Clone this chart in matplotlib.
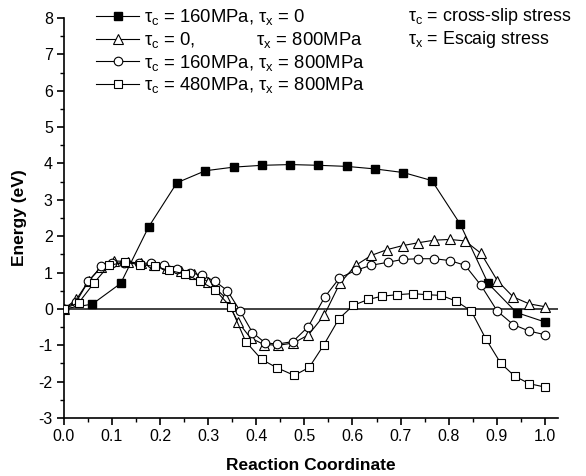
import matplotlib
matplotlib.use("Agg")
import matplotlib.pyplot as plt
from matplotlib.ticker import MultipleLocator

plt.rcParams['font.family'] = ['Liberation Sans', 'DejaVu Sans']
plt.rcParams['mathtext.fontset'] = 'custom'
plt.rcParams['mathtext.rm'] = 'Liberation Sans'
plt.rcParams['mathtext.it'] = 'Liberation Sans'
plt.rcParams['mathtext.bf'] = 'Liberation Sans:bold'

# Series 1: tau_c = 160MPa, tau_x = 0 (filled squares)
x1 = [0.0, 0.059, 0.118, 0.176, 0.235, 0.294, 0.353, 0.412, 0.471, 0.529,
      0.588, 0.647, 0.706, 0.765, 0.824, 0.882, 0.941, 1.0]
y1 = [0.0, 0.13, 0.70, 2.25, 3.47, 3.80, 3.90, 3.95, 3.97, 3.95,
      3.92, 3.85, 3.75, 3.53, 2.33, 0.70, -0.10, -0.36]

# Series 2: tau_c = 0, tau_x = 800MPa (open triangles)
x2 = [0.0, 0.026, 0.052, 0.078, 0.105, 0.133, 0.160, 0.188, 0.215, 0.243,
      0.270, 0.300, 0.335, 0.362, 0.388, 0.416, 0.446, 0.477, 0.508, 0.541,
      0.574, 0.607, 0.639, 0.672, 0.704, 0.737, 0.770, 0.802, 0.834, 0.867,
      0.901, 0.934, 0.967, 1.0]
y2 = [0.0, 0.26, 0.78, 1.15, 1.32, 1.30, 1.25, 1.20, 1.12, 1.05,
      0.95, 0.75, 0.32, -0.36, -0.80, -0.98, -1.00, -0.94, -0.72, -0.18,
      0.71, 1.20, 1.47, 1.63, 1.74, 1.82, 1.89, 1.91, 1.87, 1.53,
      0.78, 0.33, 0.14, 0.06]

# Series 3: tau_c = 160MPa, tau_x = 800MPa (open circles)
x3 = [0.0, 0.026, 0.051, 0.078, 0.100, 0.126, 0.156, 0.182, 0.209, 0.236,
      0.262, 0.288, 0.314, 0.340, 0.366, 0.392, 0.418, 0.443, 0.476, 0.508,
      0.542, 0.573, 0.607, 0.639, 0.673, 0.704, 0.737, 0.770, 0.802, 0.834,
      0.867, 0.901, 0.934, 0.967, 1.0]
y3 = [0.0, 0.20, 0.76, 1.17, 1.25, 1.27, 1.27, 1.25, 1.22, 1.11,
      1.00, 0.92, 0.76, 0.50, -0.05, -0.65, -0.93, -0.97, -0.90, -0.49,
      0.32, 0.85, 1.06, 1.20, 1.28, 1.36, 1.38, 1.38, 1.33, 1.20,
      0.65, -0.06, -0.43, -0.61, -0.71]

# Series 4: tau_c = 480MPa, tau_x = 800MPa (open squares)
x4 = [0.0, 0.031, 0.063, 0.094, 0.127, 0.158, 0.189, 0.218, 0.252, 0.283,
      0.314, 0.347, 0.378, 0.411, 0.443, 0.479, 0.510, 0.540, 0.572, 0.602,
      0.633, 0.662, 0.693, 0.725, 0.755, 0.785, 0.816, 0.847, 0.877, 0.908,
      0.937, 0.968, 1.0]
y4 = [0.0, 0.17, 0.72, 1.20, 1.28, 1.22, 1.17, 1.06, 0.96, 0.76,
      0.53, 0.05, -0.90, -1.39, -1.62, -1.83, -1.61, -1.00, -0.27, 0.10,
      0.26, 0.35, 0.39, 0.42, 0.39, 0.37, 0.21, -0.06, -0.82, -1.49,
      -1.85, -2.06, -2.15]

labels = [r"$\tau_c$ = 160MPa, $\tau_x$ = 0",
          r"$\tau_c$ = 0,            $\tau_x$ = 800MPa",
          r"$\tau_c$ = 160MPa, $\tau_x$ = 800MPa",
          r"$\tau_c$ = 480MPa, $\tau_x$ = 800MPa"]

fig = plt.figure(figsize=(5.86, 4.76), dpi=100)
ax = fig.add_axes([0.109, 0.122, 0.843, 0.840])

ax.axhline(0, color='#333333', lw=1.3, zorder=1)

lw = 0.8
ms = 5.4
ax.plot(x1, y1, '-', color='black', lw=lw, marker='s', ms=ms,
        mfc='black', mec='black', label=labels[0], zorder=3)
ax.plot(x2, y2, '-', color='black', lw=lw, marker='^', ms=ms + 1.2,
        mfc='white', mec='black', mew=0.8, label=labels[1], zorder=3)
ax.plot(x3, y3, '-', color='black', lw=lw, marker='o', ms=ms + 0.8,
        mfc='white', mec='black', mew=0.8, label=labels[2], zorder=3)
ax.plot(x4, y4, '-', color='black', lw=lw, marker='s', ms=ms,
        mfc='white', mec='black', mew=0.8, label=labels[3], zorder=3)

ax.set_xlim(0, 1.027)
ax.set_ylim(-3, 8)
ax.xaxis.set_major_locator(MultipleLocator(0.1))
ax.xaxis.set_minor_locator(MultipleLocator(0.05))
ax.yaxis.set_major_locator(MultipleLocator(1))
ax.yaxis.set_minor_locator(MultipleLocator(0.5))
ax.xaxis.set_major_formatter(matplotlib.ticker.FormatStrFormatter('%.1f'))
ax.yaxis.set_major_formatter(matplotlib.ticker.FormatStrFormatter('%d'))

for s in ['top', 'right']:
    ax.spines[s].set_visible(False)
for s in ['left', 'bottom']:
    ax.spines[s].set_linewidth(1.2)
ax.tick_params(which='major', direction='out', length=5, width=1.2,
               labelsize=11.5, pad=3)
ax.tick_params(which='minor', direction='out', length=3, width=1.0)

ax.set_xlabel('Reaction Coordinate', fontsize=12.5, fontweight='bold', labelpad=10)
ax.set_ylabel('Energy (eV)', fontsize=12.5, fontweight='bold', labelpad=8)

leg = fig.legend(loc='upper left', bbox_to_anchor=(0.152, 1.0),
                 frameon=False, fontsize=13.3, handlelength=2.3,
                 handletextpad=0.25, labelspacing=0.14, borderaxespad=0)

fig.text(0.697, 0.966, r"$\tau_c$ = cross-slip stress", fontsize=12.9,
         va='center', ha='left')
fig.text(0.697, 0.918, r"$\tau_x$ = Escaig stress", fontsize=12.9,
         va='center', ha='left')

fig.savefig('out.png', dpi=100)
